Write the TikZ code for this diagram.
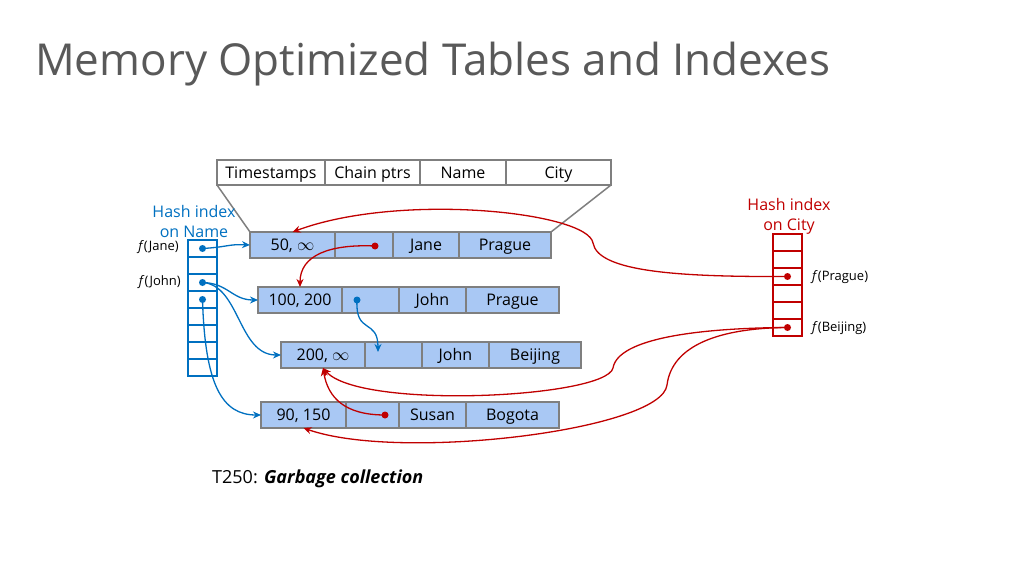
\documentclass[tikz,border=0pt]{standalone}
\usepackage{fontspec}
\setmainfont{Open Sans}
\usetikzlibrary{arrows.meta, positioning}
\definecolor{cellfill}{HTML}{A9C8F4}
\definecolor{cellline}{HTML}{7F7F7F}
\definecolor{nameblue}{HTML}{0070C0}
\definecolor{cityred}{HTML}{C00000}
\definecolor{titlegray}{HTML}{595959}
\tikzset{
    >={Stealth[length=8pt, width=7pt]},
    % Boxes
    cell/.style={rectangle, draw=cellline, line width=1.5pt, fill=cellfill,
                 minimum height=26pt, inner sep=0pt, outer sep=0pt,
                 text height=11.5pt, text depth=0pt,
                 font=\fontsize{16}{18}\selectfont},
    head/.style={cell, fill=white, minimum height=25pt},
    slot/.style={rectangle, draw, line width=2pt, minimum width=29pt,
                 minimum height=17pt, inner sep=0pt, outer sep=0pt},
    dot/.style={circle, inner sep=0pt, minimum size=7pt},
    % Pointers & Labels
    bptr/.style={->, nameblue, line width=1.3pt},
    rptr/.style={->, cityred, line width=1.3pt},
    fn/.style={font=\fontsize{13}{15}\selectfont, inner sep=0pt},
    idxlbl/.style={font=\fontsize{16}{20}\selectfont, align=center, inner sep=0pt}
}

\begin{document}
\begin{tikzpicture}[x=1pt, y=-1pt]
\useasboundingbox (0,0) rectangle (1023,575);

\node[anchor=base west, text=titlegray, font=\fontsize{44}{48}\selectfont, inner sep=0pt] (title) at (35,76) {Memory Optimized Tables and Indexes};

% record layout
\node[head, minimum width=108pt] (hts) at (271,172.5) {Timestamps};
\node[head, minimum width=95pt, right=0pt of hts] (hcp) {Chain ptrs};
\node[head, minimum width=86pt, right=0pt of hcp] (hnm) {Name};
\node[head, minimum width=105pt, right=0pt of hnm] (hct) {City};

% rows
\node[cell, minimum width=85pt] (r1a) at (292.5,245) {50, $\infty$};
\node[cell, minimum width=58pt, right=0pt of r1a] (r1b) {};
\node[cell, minimum width=66pt, right=0pt of r1b] (r1c) {Jane};
\node[cell, minimum width=92pt, right=0pt of r1c] (r1d) {Prague};

\node[cell, minimum width=84pt] (r2a) at (300,300) {100, 200};
\node[cell, minimum width=57pt, right=0pt of r2a] (r2b) {};
\node[cell, minimum width=67pt, right=0pt of r2b] (r2c) {John};
\node[cell, minimum width=93pt, right=0pt of r2c] (r2d) {Prague};

\node[cell, minimum width=84pt] (r3a) at (323,355) {200, $\infty$};
\node[cell, minimum width=57pt, right=0pt of r3a] (r3b) {};
\node[cell, minimum width=67pt, right=0pt of r3b] (r3c) {John};
\node[cell, minimum width=92pt, right=0pt of r3c] (r3d) {Beijing};

\node[cell, minimum width=85pt] (r4a) at (303.5,415) {90, 150};
\node[cell, minimum width=53pt, right=0pt of r4a] (r4b) {};
\node[cell, minimum width=67pt, right=0pt of r4b] (r4c) {Susan};
\node[cell, minimum width=93pt, right=0pt of r4c] (r4d) {Bogota};

\draw[cellline, line width=1.5pt] (hts.south west) -- (r1a.north west);
\draw[cellline, line width=1.5pt] (hct.south east) -- (r1d.north east);

% hash indexes
\foreach \i in {1,...,8}
    \node[slot, draw=nameblue] (nm\i) at (202.5,{248.5+(\i-1)*17}) {};
\foreach \i in {1,...,6}
    \node[slot, draw=cityred] (ct\i) at (787.5,{242.5+(\i-1)*17}) {};

\node[idxlbl, text=nameblue] (nmlbl) at (194,221) {Hash index\\on Name};
\node[idxlbl, text=cityred] (ctlbl) at (789,216) {Hash index\\on City};

\node[fn, anchor=east] (fjane) at (179,247) {\textit{f}(Jane)};
\node[fn, anchor=east] (fjohn) at (181,282) {\textit{f}(John)};
\node[fn, anchor=west] (fprague) at (812,277) {\textit{f}(Prague)};
\node[fn, anchor=west] (fbeijing) at (812,328) {\textit{f}(Beijing)};

\node[dot, fill=nameblue] (jane) at (nm1.center) {};
\node[dot, fill=nameblue] (john) at (nm3.center) {};
\node[dot, fill=nameblue] (john2) at (nm4.center) {};
\node[dot, fill=cityred] (prague) at (ct3.center) {};
\node[dot, fill=cityred] (beijing) at (ct6.center) {};

\node[dot, fill=cityred] (c1) at (375,246) {};
\node[dot, fill=nameblue] (c2) at (357,300) {};
\node[dot, fill=cityred] (c4) at (385,415) {};
\coordinate (r3tip) at (378,352);

% name chains
\draw[bptr] (jane.center) .. controls (228,247) and (228,244) .. (r1a.west);
\draw[bptr] (john.center) .. controls (228,283) and (232,300) .. (r2a.west);
\draw[bptr] (john.center) .. controls (240,285) and (238,355) .. (r3a.west);
\draw[bptr] (john2.center) .. controls (205,385) and (222,415) .. (r4a.west);
\draw[bptr] (c2.center) .. controls (355,335) and (378,318) .. (r3tip);

% city chains
\draw[rptr] (c1.center) .. controls (330,244) and (300,255) .. (r2a.north);
\draw[rptr] (prague.center) .. controls (680,277) and (598,272) .. (593,243)
    .. controls (588,212) and (400,192) .. (r1a.north);
\draw[rptr] (beijing.center) .. controls (700,328) and (618,338) .. (613,368)
    .. controls (606,398) and (360,410) .. (r3a.south);
\draw[rptr] (beijing.center) .. controls (720,328) and (672,345) .. (667,385)
    .. controls (662,430) and (400,462) .. (r4a.south);
\draw[rptr] (c4.center) .. controls (345,415) and (328,398) .. (r3a.south);

\node[anchor=base west, font=\fontsize{18}{20}\selectfont, inner sep=0pt] (gc) at (212,483) {T250: \textbf{\textit{Garbage collection}}};

\end{tikzpicture}
\end{document}
